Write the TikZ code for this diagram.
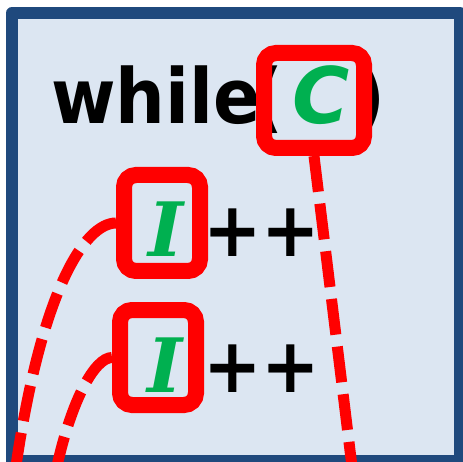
\documentclass[tikz,border=0pt]{standalone}
\usepackage{fontspec}
\setmainfont{DejaVu Sans}
\newfontfamily\dvserif{DejaVu Serif}
\usepackage{graphicx}
\definecolor{bgblue}{RGB}{220,230,242}
\definecolor{frameblue}{RGB}{31,73,125}
\definecolor{codegreen}{RGB}{0,176,80}
\tikzset{
  hl/.style={draw=red, line width=16pt, rounded corners=12pt, inner sep=0pt},
  link/.style={draw=red, line width=11pt, dash pattern=on 36pt off 12pt},
  kw/.style={font=\fontsize{76}{90}\selectfont\bfseries, inner sep=0pt, anchor=base west, text=black},
  cvar/.style={font=\fontsize{78}{90}\selectfont\bfseries\itshape, inner sep=0pt, anchor=base, text=codegreen},
  ivar/.style={font=\fontsize{75}{90}\selectfont\dvserif\bfseries\itshape, inner sep=0pt, anchor=base, text=codegreen}
}
\begin{document}
\begin{tikzpicture}[x=1pt,y=-1pt]
\useasboundingbox (0,0) rectangle (463,462);
\clip (0,0) rectangle (463,462);
\draw[fill=bgblue, draw=frameblue, line width=12pt, line join=round] (12,13) rectangle (460,461);
% code text
\node[kw] (wh) at (51,124) {\scalebox{0.92}[1]{while}};
\node[kw] (lp) at (251,124) {\scalebox{0.92}[1]{(}};
\node[kw] (rp) at (353,124) {\scalebox{0.92}[1]{)}};
\node[cvar] (cv) at (321,124) {C};
\node[ivar] (iv1) at (166,257) {I};
\node[ivar] (iv2) at (165,392) {I};
\node[kw] (pp1) at (203,257) {\scalebox{0.92}[1]{++}};
\node[kw] (pp2) at (203,392) {\scalebox{0.92}[1]{++}};
% highlight boxes
\node[hl, minimum width=100pt, minimum height=95pt] (c) at (314,100.5) {};
\node[hl, minimum width=76pt, minimum height=96pt] (i1) at (162,223) {};
\node[hl, minimum width=76pt, minimum height=95pt] (i2) at (158,357.5) {};
% free ends
\coordinate (e1) at (14,480);
\coordinate (e2) at (54,480);
\coordinate (e3) at (353,475);
% dashed links
\draw[link] (i1.west) .. controls (85,223) and (40,290) .. (e1);
\draw[link] (i2.west) .. controls (95,357.5) and (70,400) .. (e2);
\draw[link] (c.south) -- (e3);
\end{tikzpicture}
\end{document}
